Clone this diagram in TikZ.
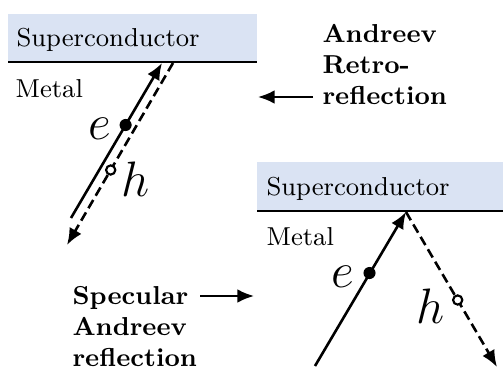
\documentclass[tikz,border=0pt]{standalone}
\usetikzlibrary{arrows.meta}
\definecolor{scblue}{RGB}{218,227,243}
\begin{document}
\begin{tikzpicture}[x=0.347pt,y=-0.347pt,
  scbox/.style={fill=scblue,draw=none},
  iface/.style={line width=1pt},
  tip/.style={-{Latex[length=5.8pt,width=4.8pt]}},
  elec/.style={line width=0.9pt,tip},
  hole/.style={line width=0.9pt,dash pattern=on 3.3pt off 1.7pt,tip},
  edot/.style={circle,fill=black,inner sep=0pt,minimum size=4.2pt},
  hdot/.style={circle,draw=black,fill=white,line width=0.75pt,inner sep=0pt,minimum size=3.2pt},
  lab/.style={inner sep=0pt,font=\fontsize{9}{11}\selectfont},
  blab/.style={inner sep=0pt,align=left,font=\fontsize{9}{10.8}\selectfont\bfseries},
  ptl/.style={inner sep=0pt,font=\fontsize{16}{18}\selectfont}
]
\useasboundingbox (0,0) rectangle (503,368);
% upper panel
\fill[scbox] (8,14) rectangle (257,62);
\coordinate (ifA1) at (8,62);
\coordinate (ifA2) at (257,62);
\draw[iface] (ifA1) -- (ifA2);
\node[lab,anchor=base west] (scA) at (16,46) {Superconductor};
\node[lab,anchor=base west] (metA) at (15,97) {Metal};
\coordinate (eA0) at (71,218);
\coordinate (eA1) at (162,63);
\coordinate (hA0) at (173,63);
\coordinate (hA1) at (67,245);
\draw[elec] (eA0) -- (eA1);
\draw[hole] (hA0) -- (hA1);
\node[edot] (eAd) at (125.6,125) {};
\node[hdot] (hAd) at (110.7,170) {};
\node[ptl] (eAl) at (100,129) {$e$};
\node[ptl] (hAl) at (136,179) {$h$};
% lower panel
\fill[scbox] (257,162) rectangle (503,211);
\coordinate (ifB1) at (257,211);
\coordinate (ifB2) at (503,211);
\draw[iface] (ifB1) -- (ifB2);
\node[lab,anchor=base west] (scB) at (266,195) {Superconductor};
\node[lab,anchor=base west] (metB) at (266,245) {Metal};
\coordinate (eB0) at (315,366);
\coordinate (eB1) at (406,212);
\coordinate (hB1) at (497,367);
\draw[elec] (eB0) -- (eB1);
\draw[hole] (eB1) -- (hB1);
\node[edot] (eBd) at (369.5,273) {};
\node[hdot] (hBd) at (457.7,300) {};
\node[ptl] (eBl) at (343,277) {$e$};
\node[ptl] (hBl) at (431,306) {$h$};
% labels
\node[blab,anchor=north west] (retro) at (322,24) {Andreev\\Retro-\\reflection};
\coordinate (retroS) at (313,97);
\coordinate (retroE) at (258,97);
\draw[line width=0.8pt,tip] (retroS) -- (retroE);
\node[blab,anchor=north west] (spec) at (72,286) {Specular\\Andreev\\reflection};
\coordinate (specS) at (200,296);
\coordinate (specE) at (254,296);
\draw[line width=0.8pt,tip] (specS) -- (specE);
\end{tikzpicture}
\end{document}
